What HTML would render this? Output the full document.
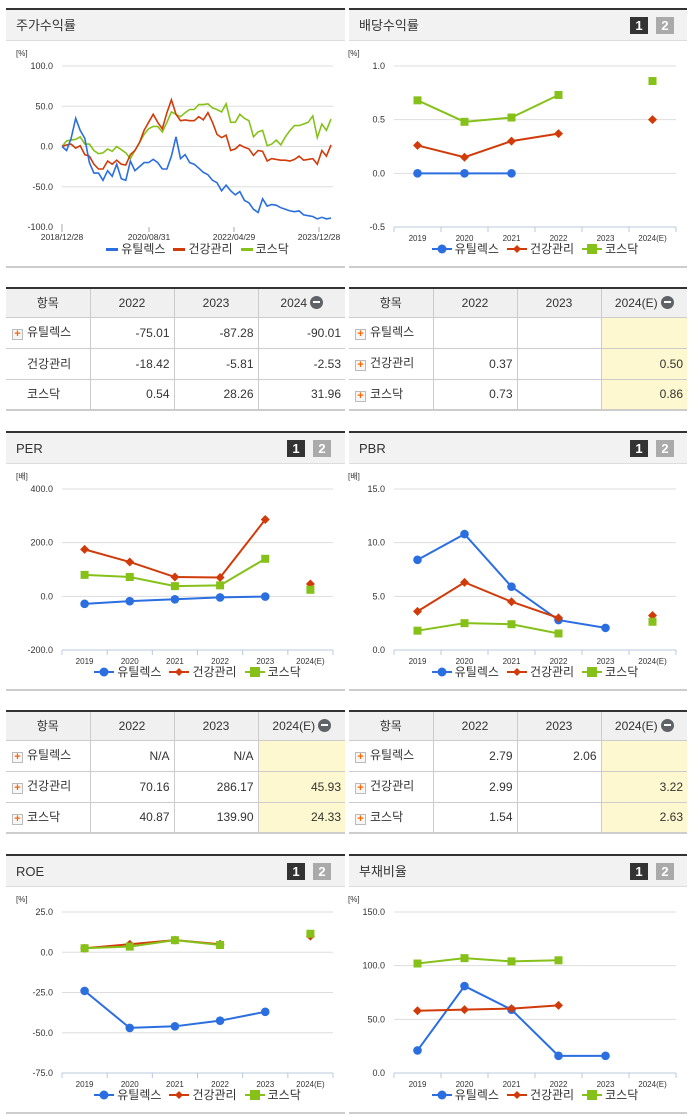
<!DOCTYPE html>
<html><head><meta charset="utf-8">
<style>
*{box-sizing:border-box}
body{margin:0;width:691px;height:1115px;background:#fff;position:relative;overflow:hidden;font-family:"Liberation Sans","Noto Sans CJK KR",sans-serif;color:#333}
.abs{position:absolute}
.hdr{position:absolute;background:#f2f2f2;border-top:2px solid #333;border-bottom:1px solid #ddd;height:33px}
.ttl{position:absolute;top:9px;left:10px;font-size:13px;line-height:14px;color:#333}
.b1,.b2{position:absolute;top:7px;width:18px;height:17px;color:#fff;font-weight:bold;font-size:13px;text-align:center;line-height:17px}
.b1{background:#333}.b2{background:#aaa}
.bot{position:absolute;height:2px;background:#ccc}
.leg{position:absolute;display:flex;justify-content:center;align-items:center;font-size:12px;line-height:14px;color:#333;gap:8px}
.leg span{display:flex;align-items:center;gap:3px}
table{position:absolute;border-collapse:collapse;font-size:12px;table-layout:fixed;border-top:2px solid #333;border-bottom:2px solid #ccc}
td,th{border:1px solid #ccc;height:31px;padding:0 4px;font-weight:normal;line-height:14px}
th{background:#f0f0f0;height:29px;text-align:center}
td{text-align:right}
td.l{text-align:left;padding-left:6px}
tr>*:first-child{border-left:none}tr>*:last-child{border-right:none}
.pl{display:inline-block;width:11px;height:11px;border:1px solid #bbb;background:#f6f6f6;color:#f60;font-size:11px;line-height:9px;text-align:center;font-weight:bold;vertical-align:-1px;margin-right:4px}
.sp{display:inline-block;width:11px;margin-right:4px}
.y{background:#fdf8cf}
.mi{display:inline-block;width:13px;height:13px;border-radius:50%;background:#5f6368;vertical-align:-2px;margin-left:3px;position:relative}
.mi:after{content:"";position:absolute;left:3px;top:5.5px;width:7px;height:2px;background:#fff}
</style></head>
<body>
<svg id="svg" class="abs" style="left:0;top:0" width="691" height="1115"></svg>

<script>
// ---- Chart data ----
const stockDates = ["2018/12/28","2020/08/31","2022/04/29","2023/12/28"];
const stockUtil = [0,-5,10,35,20,10,-20,-33,-33,-42,-30,-37,-22,-40,-42,-18,-30,-25,-20,-20,-16,-20,-28,-28,-12,12,-15,-10,-20,-22,-27,-32,-35,-42,-45,-55,-48,-55,-60,-56,-67,-70,-78,-82,-65,-74,-72,-73,-76,-78,-80,-81,-80,-85,-86,-87,-90,-88,-90,-89];
const stockHealth = [0,2,3,-2,1,-10,-12,-22,-28,-28,-18,-22,-17,-22,-23,-10,-5,5,20,30,40,30,22,42,58,40,32,33,32,32,37,33,42,30,15,11,14,-5,-3,2,-1,-3,-11,-5,-6,-18,-15,-16,-17,-17,-18,-16,-12,-17,-16,-15,-22,-5,-12,2];
const stockKosdaq = [0,7,8,9,12,3,3,-5,-9,-8,-3,-6,0,-4,-8,-15,-5,5,15,22,25,25,18,30,43,40,37,42,46,46,52,52,53,48,46,43,53,30,30,40,35,32,12,18,20,1,3,8,2,12,20,26,26,28,30,38,11,28,20,34];
const stockTicks = ["100.0","50.0","0.0","-50.0","-100.0"];

const years = ["2019","2020","2021","2022","2023","2024(E)"];
const divUtil = [0,0,0,null,null,null];
const divHealth = [0.26,0.15,0.30,0.37,null,0.50];
const divKosdaq = [0.68,0.48,0.52,0.73,null,0.86];
const divTicks = ["1.0","0.5","0.0","-0.5"];

const perUtil = [-28,-18,-11,-4,-1,null];
const perHealth = [175,128,72,70.16,286.17,45.93];
const perKosdaq = [80,72,38,40.87,139.90,24.33];
const perTicks = ["400.0","200.0","0.0","-200.0"];

const pbrUtil = [8.4,10.8,5.9,2.79,2.06,null];
const pbrHealth = [3.6,6.3,4.5,2.99,null,3.22];
const pbrKosdaq = [1.8,2.5,2.4,1.54,null,2.63];
const pbrTicks = ["15.0","10.0","5.0","0.0"];

const roeUtil = [-24,-47,-46,-42.5,-37,null];
const roeHealth = [2.5,5,7.5,5,null,10];
const roeKosdaq = [2.5,3.5,7.5,4.5,null,11.5];
const roeTicks = ["25.0","0.0","-25.0","-50.0","-75.0"];

const debtUtil = [21,81,59,16,16,null];
const debtHealth = [58,59,60,63,null,null];
const debtKosdaq = [102,107,104,105,null,null];
const debtTicks = ["150.0","100.0","50.0","0.0"];

const C = {u:"#2a6ee0",h:"#d13b0a",k:"#86c11a"};
const NS="http://www.w3.org/2000/svg";
const svg=document.getElementById('svg');
function mk(tag,attrs,parent){const e=document.createElementNS(NS,tag);for(const k in attrs)e.setAttribute(k,attrs[k]);(parent||svg).appendChild(e);return e;}

function axisFrame(x0,x1,yTop,yBot,ticks,unit,catLabels,name){
  const g=mk('g',{});
  
  
  const n=ticks.length;
  ticks.forEach((t,i)=>{
    const y=yTop+(yBot-yTop)*i/(n-1);
    if(i<n-1) mk('line',{x1:x0,x2:x1,y1:y,y2:y,stroke:'#ddd','stroke-width':1},g);
    const tx=mk('text',{x:x0-9,y:y+3,'font-size':9,'text-anchor':'end',fill:'#333'},g);
    tx.textContent=t;
  });
  const u=mk('text',{x:x0-46,y:yTop-10,'font-size':8,fill:'#333'},g);u.textContent=unit;
  return g;
}
function catChart(x0,x1,yTop,yBot,vmax,vmin,ticks,unit,series,name){
  const g=axisFrame(x0,x1,yTop,yBot,ticks,unit,years,name);
  const bw=(x1-x0)/years.length;
  const xS=i=>x0+(i+0.5)*bw;
  const yS=v=>yTop+(vmax-v)/(vmax-vmin)*(yBot-yTop);
  mk('line',{x1:x0,x2:x1,y1:yBot,y2:yBot,stroke:'#b8c8dc','stroke-width':1},g);
  for(let i=0;i<=years.length;i++) mk('line',{x1:x0+i*bw,x2:x0+i*bw,y1:yBot,y2:yBot+5,stroke:'#b8c8dc'},g);
  years.forEach((y,i)=>{const t=mk('text',{x:xS(i),y:yBot+14,'font-size':8,'text-anchor':'middle',fill:'#333'},g);t.textContent=y;});
  series.forEach(s=>{
    const sg=mk('g',{},g);
    
    
    let d='',pen=false;
    s.d.forEach((v,i)=>{ if(v==null||i==5){pen=false;return;} d+=(pen?'L':'M')+xS(i)+' '+yS(v);pen=true;});
    if(d) mk('path',{d:d,fill:'none',stroke:s.c,'stroke-width':2},sg);
    s.d.forEach((v,i)=>{
      if(v==null)return;const x=xS(i),y=yS(v);
      let m;
      if(s.m=='c') m=mk('circle',{cx:x,cy:y,r:4.3,fill:s.c},sg);
      else if(s.m=='d') m=mk('path',{d:`M${x} ${y-4.5}L${x+4.5} ${y}L${x} ${y+4.5}L${x-4.5} ${y}Z`,fill:s.c},sg);
      else m=mk('rect',{x:x-4,y:y-4,width:8,height:8,fill:s.c},sg);
      
      
    });
  });
}
function stockChart(){
  const x0=62,x1=333,yTop=66,yBot=227,xe=331;
  const g=axisFrame(x0,x1,yTop,yBot,stockTicks,'[%]',null,'stock-return-chart');
  const yS=v=>yTop+(100-v)/200*(yBot-yTop);
  const tickX=[62,149,234,319];
  mk('line',{x1:x0,x2:x0,y1:yBot-3,y2:yBot+4,stroke:'#aaa'},g);
  stockDates.forEach((d,i)=>{
    mk('line',{x1:tickX[i],x2:tickX[i],y1:yBot,y2:yBot+5,stroke:'#aaa'},g);
    const t=mk('text',{x:tickX[i],y:yBot+13,'font-size':8.5,'text-anchor':'middle',fill:'#333'},g);t.textContent=d;});
  [[stockUtil,C.u,'util'],[stockHealth,C.h,'health'],[stockKosdaq,C.k,'kosdaq']].reverse().forEach(([arr,c,n])=>{
    const n1=arr.length-1;
    const d=arr.map((v,i)=>(i?'L':'M')+(x0+(xe-x0)*i/n1).toFixed(1)+' '+yS(v).toFixed(1)).join('');
    const p=mk('path',{d:d,fill:'none',stroke:c,'stroke-width':1.6},g);
    
    
  });
}
stockChart();
const ser=(u,h,k)=>[{n:'util',d:u,c:C.u,m:'c'},{n:'health',d:h,c:C.h,m:'d'},{n:'kosdaq',d:k,c:C.k,m:'s'}];
catChart(394,676,66,227,1.0,-0.5,divTicks,'[%]',ser(divUtil,divHealth,divKosdaq),'dividend-chart');
catChart(62,333,489,650,400,-200,perTicks,'[배]',ser(perUtil,perHealth,perKosdaq),'per-chart');
catChart(394,676,489,650,15,0,pbrTicks,'[배]',ser(pbrUtil,pbrHealth,pbrKosdaq),'pbr-chart');
catChart(62,333,912,1073,25,-75,roeTicks,'[%]',ser(roeUtil,roeHealth,roeKosdaq),'roe-chart');
catChart(394,676,912,1073,150,0,debtTicks,'[%]',ser(debtUtil,debtHealth,debtKosdaq),'debt-ratio-chart');
</script>

<!-- Panels -->
<div class="hdr" style="left:6px;top:8px;width:339px"><span class="ttl">주가수익률</span></div>
<div class="bot" style="left:6px;top:266px;width:339px"></div>
<div class="hdr" style="left:349px;top:8px;width:338px"><span class="ttl">배당수익률</span><span class="b1" style="left:281px">1</span><span class="b2" style="left:307px">2</span></div>
<div class="bot" style="left:349px;top:266px;width:338px"></div>

<div class="hdr" style="left:6px;top:431px;width:339px"><span class="ttl">PER</span><span class="b1" style="left:281px">1</span><span class="b2" style="left:307px">2</span></div>
<div class="bot" style="left:6px;top:689px;width:339px"></div>
<div class="hdr" style="left:349px;top:431px;width:338px"><span class="ttl">PBR</span><span class="b1" style="left:281px">1</span><span class="b2" style="left:307px">2</span></div>
<div class="bot" style="left:349px;top:689px;width:338px"></div>

<div class="hdr" style="left:6px;top:854px;width:339px"><span class="ttl">ROE</span><span class="b1" style="left:281px">1</span><span class="b2" style="left:307px">2</span></div>
<div class="bot" style="left:6px;top:1112px;width:339px"></div>
<div class="hdr" style="left:349px;top:854px;width:338px"><span class="ttl">부채비율</span><span class="b1" style="left:281px">1</span><span class="b2" style="left:307px">2</span></div>
<div class="bot" style="left:349px;top:1112px;width:338px"></div>

<!-- Legends -->
<div class="leg" style="left:62px;top:242px;width:271px">
<span><i style="width:12px;height:3px;background:#2a6ee0;display:inline-block"></i>유틸렉스</span>
<span><i style="width:12px;height:3px;background:#d13b0a;display:inline-block"></i>건강관리</span>
<span><i style="width:12px;height:3px;background:#86c11a;display:inline-block"></i>코스닥</span></div>
<script>
const legPos=[[394,242],[62,665],[394,665],[62,1088],[394,1088]];
legPos.forEach(([x,y])=>{
  const d=document.createElement('div');
  d.className='leg';d.style.left=x+'px';d.style.top=y+'px';d.style.width=(x<300?271:282)+'px';
  
  
  d.innerHTML='<span><svg width="20" height="10"><line x1="0" y1="5" x2="20" y2="5" stroke="#2a6ee0" stroke-width="2"/><circle cx="10" cy="5" r="4.5" fill="#2a6ee0"/></svg>유틸렉스</span>'+
  '<span><svg width="20" height="10"><line x1="0" y1="5" x2="20" y2="5" stroke="#d13b0a" stroke-width="2"/><path d="M10 1L14 5L10 9L6 5Z" fill="#d13b0a"/></svg>건강관리</span>'+
  '<span><svg width="20" height="10"><line x1="0" y1="5" x2="20" y2="5" stroke="#86c11a" stroke-width="2"/><rect x="5" y="0" width="10" height="10" fill="#86c11a"/></svg>코스닥</span>';
  document.body.appendChild(d);
});
</script>

<!-- Tables -->
<table style="left:6px;top:287px;width:339px">
<colgroup><col style="width:84px"><col style="width:84px"><col style="width:84px"><col></colgroup>
<tr><th>항목</th><th>2022</th><th>2023</th><th>2024<span class="mi"></span></th></tr>
<tr><td class="l"><span class="pl">+</span>유틸렉스</td><td>-75.01</td><td>-87.28</td><td>-90.01</td></tr>
<tr><td class="l"><span class="sp"></span>건강관리</td><td>-18.42</td><td>-5.81</td><td>-2.53</td></tr>
<tr><td class="l"><span class="sp"></span>코스닥</td><td>0.54</td><td>28.26</td><td>31.96</td></tr>
</table>
<table style="left:349px;top:287px;width:338px">
<colgroup><col style="width:84px"><col style="width:84px"><col style="width:84px"><col></colgroup>
<tr><th>항목</th><th>2022</th><th>2023</th><th>2024(E)<span class="mi"></span></th></tr>
<tr><td class="l"><span class="pl">+</span>유틸렉스</td><td></td><td></td><td class="y"></td></tr>
<tr><td class="l"><span class="pl">+</span>건강관리</td><td>0.37</td><td></td><td class="y">0.50</td></tr>
<tr><td class="l"><span class="pl">+</span>코스닥</td><td>0.73</td><td></td><td class="y">0.86</td></tr>
</table>
<table style="left:6px;top:710px;width:339px">
<colgroup><col style="width:84px"><col style="width:84px"><col style="width:84px"><col></colgroup>
<tr><th>항목</th><th>2022</th><th>2023</th><th>2024(E)<span class="mi"></span></th></tr>
<tr><td class="l"><span class="pl">+</span>유틸렉스</td><td>N/A</td><td>N/A</td><td class="y"></td></tr>
<tr><td class="l"><span class="pl">+</span>건강관리</td><td>70.16</td><td>286.17</td><td class="y">45.93</td></tr>
<tr><td class="l"><span class="pl">+</span>코스닥</td><td>40.87</td><td>139.90</td><td class="y">24.33</td></tr>
</table>
<table style="left:349px;top:710px;width:338px">
<colgroup><col style="width:84px"><col style="width:84px"><col style="width:84px"><col></colgroup>
<tr><th>항목</th><th>2022</th><th>2023</th><th>2024(E)<span class="mi"></span></th></tr>
<tr><td class="l"><span class="pl">+</span>유틸렉스</td><td>2.79</td><td>2.06</td><td class="y"></td></tr>
<tr><td class="l"><span class="pl">+</span>건강관리</td><td>2.99</td><td></td><td class="y">3.22</td></tr>
<tr><td class="l"><span class="pl">+</span>코스닥</td><td>1.54</td><td></td><td class="y">2.63</td></tr>
</table>
</body></html>
